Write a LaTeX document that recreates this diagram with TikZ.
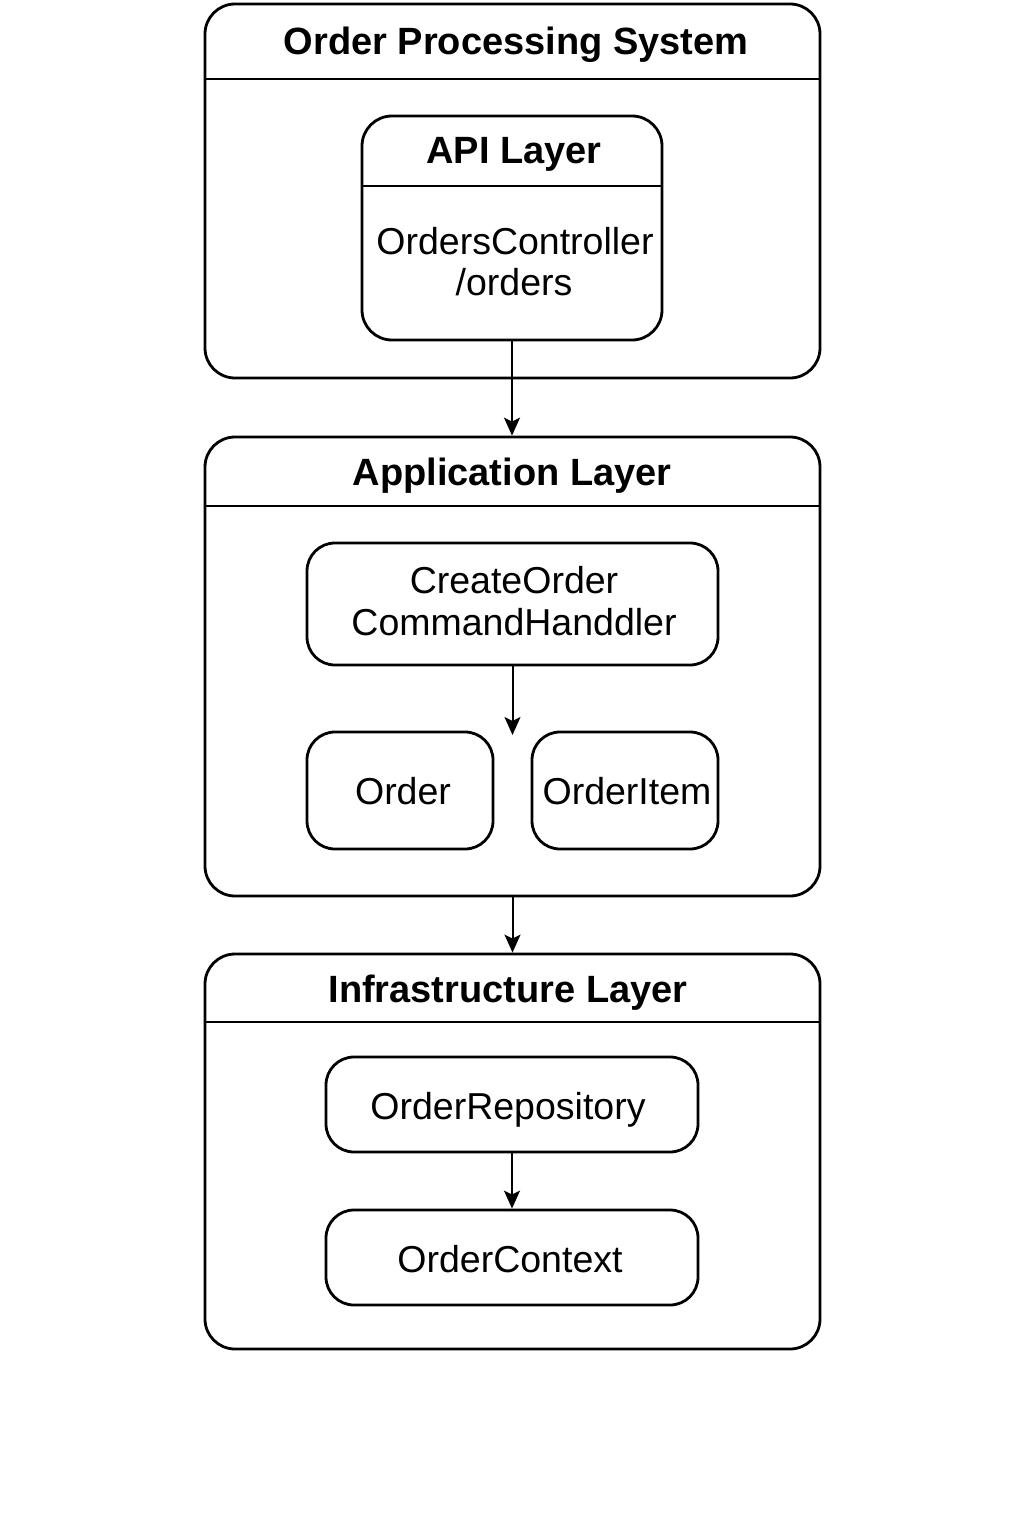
\documentclass[tikz,border=0pt]{standalone}
\usepackage{fontspec}
\setmainfont{Liberation Sans}
\usetikzlibrary{arrows.meta}
\begin{document}
\begin{tikzpicture}[x=1pt,y=-1pt,
  container/.style={draw, line width=2.8pt, rounded corners=30pt, inner sep=0pt},
  compbox/.style={draw, line width=2.8pt, rounded corners=28pt, inner sep=0pt},
  titletext/.style={anchor=base, inner sep=0pt, font=\fontsize{38}{44}\selectfont\bfseries},
  bodytext/.style={anchor=base, inner sep=0pt, font=\fontsize{37.5}{42}\selectfont},
  sep/.style={line width=2.8pt},
  arr/.style={line width=2pt, -{Stealth[length=18pt,width=16pt,inset=4pt]}}
]
\useasboundingbox (0,0) rectangle (1024,1536);
\fill[white] (0,0) rectangle (1024,1536);

% Order Processing System container
\node[container, minimum width=615pt, minimum height=374pt] (sys) at (512.5,191) {};
\node[titletext] (systitle) at (516,55) {Order Processing System};
\draw[sep] (sys.west |- 0,79) -- (sys.east |- 0,79);

% API Layer
\node[container, minimum width=300pt, minimum height=224pt] (api) at (512,228) {};
\node[titletext] (apititle) at (514,164) {API Layer};
\draw[sep] (api.west |- 0,186) -- (api.east |- 0,186);
\node[bodytext] (ctrl) at (515,254) {OrdersController};
\node[bodytext] (route) at (514,295) {/orders};

% Application Layer
\node[container, minimum width=615pt, minimum height=459pt] (app) at (512.5,666.5) {};
\node[titletext] (apptitle) at (512,485) {Application Layer};
\draw[sep] (app.west |- 0,506) -- (app.east |- 0,506);
\node[compbox, minimum width=411pt, minimum height=122pt] (handler) at (512.5,604) {};
\node[bodytext] (handlerl1) at (514,593) {CreateOrder};
\node[bodytext] (handlerl2) at (514,635) {CommandHanddler};
\node[compbox, minimum width=186pt, minimum height=117pt] (order) at (400,790.5) {};
\node[bodytext] (orderl) at (403,804) {Order};
\node[compbox, minimum width=186pt, minimum height=117pt] (item) at (625,790.5) {};
\node[bodytext] (iteml) at (627,804) {OrderItem};
\coordinate (handlerout) at (512.5,735);

% Infrastructure Layer
\node[container, minimum width=615pt, minimum height=395pt] (infra) at (512.5,1151.5) {};
\node[titletext] (infratitle) at (508,1002) {Infrastructure Layer};
\draw[sep] (infra.west |- 0,1022) -- (infra.east |- 0,1022);
\node[compbox, minimum width=372pt, minimum height=95pt] (repo) at (512,1104.5) {};
\node[bodytext] (repol) at (508,1119) {OrderRepository};
\node[compbox, minimum width=372pt, minimum height=95pt] (ctx) at (512,1257.5) {};
\node[bodytext] (ctxl) at (510,1272) {OrderContext};

% connectors
\draw[arr] (api.south) -- (api.south |- app.north);
\draw[arr] (handler.south) -- (handlerout);
\draw[arr] (app.south) -- (infra.north);
\draw[arr] (repo.south) -- (ctx.north);
\end{tikzpicture}
\end{document}
